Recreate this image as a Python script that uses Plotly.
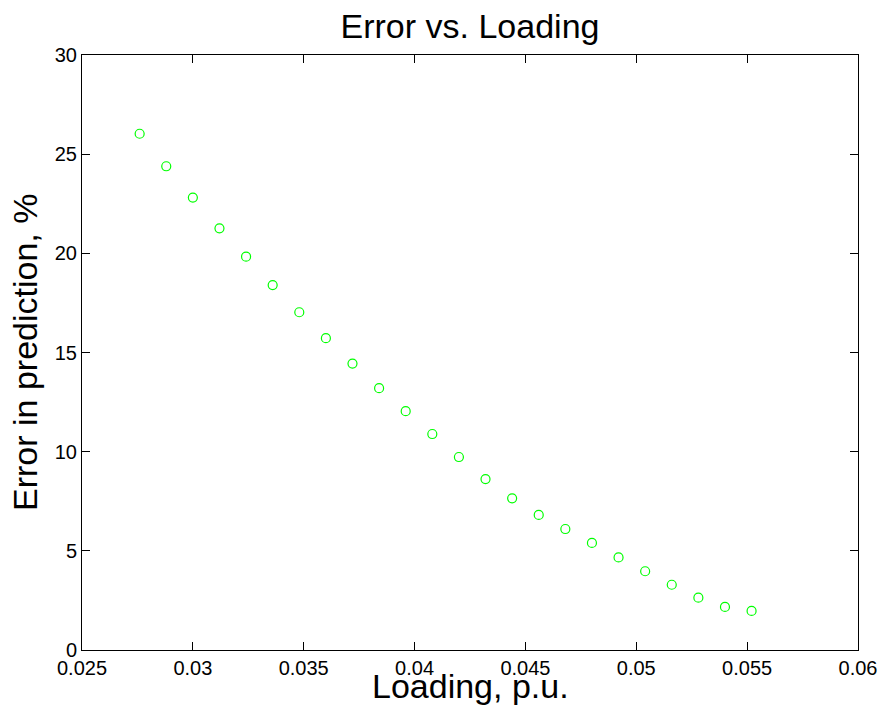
import plotly.graph_objects as go

# Data
loading_pu = [0.0276, 0.0288, 0.0300, 0.0312, 0.0324, 0.0336, 0.0348, 0.0360,
              0.0372, 0.0384, 0.0396, 0.0408, 0.0420, 0.0432, 0.0444, 0.0456,
              0.0468, 0.0480, 0.0492, 0.0504, 0.0516, 0.0528, 0.0540, 0.0552]
error_pct = [26.03, 24.39, 22.81, 21.26, 19.83, 18.40, 17.03, 15.72,
             14.44, 13.20, 12.04, 10.89, 9.73, 8.62, 7.65, 6.81,
             6.10, 5.40, 4.67, 3.97, 3.29, 2.64, 2.17, 1.97]

x_tickvals = [0.025, 0.03, 0.035, 0.04, 0.045, 0.05, 0.055, 0.06]
x_ticktext = ["0.025", "0.03", "0.035", "0.04", "0.045", "0.05", "0.055", "0.06"]
y_tickvals = [0, 5, 10, 15, 20, 25, 30]
y_ticktext = ["0", "5", "10", "15", "20", "25", "30"]

title_text = "Error vs. Loading"
x_title = "Loading, p.u."
y_title = "Error in prediction, %"

FONT = "Liberation Sans, Arial, Helvetica, sans-serif"

W, H = 883, 719

fig = go.Figure()
fig.add_trace(go.Scatter(
    x=loading_pu, y=error_pct, mode="markers",
    marker=dict(symbol="circle-open", size=9, color="#00FF00",
                line=dict(color="#00FF00", width=1.2)),
    showlegend=False, hoverinfo="skip",
))

axis_common = dict(
    showline=True, linecolor="black", linewidth=1, mirror="ticks",
    ticks="inside", ticklen=8, tickwidth=1, tickcolor="black",
    showgrid=False, zeroline=False, ticklabeloverflow="allow",
    automargin=False,
    tickfont=dict(family=FONT, size=20, color="black"),
)

fig.update_layout(
    width=W, height=H,
    margin=dict(l=82, r=25, t=55, b=69, autoexpand=False),
    paper_bgcolor="white", plot_bgcolor="white",
    font=dict(family=FONT, color="black"),
    title=dict(text=title_text, x=0.5, xanchor="center", xref="paper",
               y=1 - 26.5 / H, yanchor="middle", yref="container",
               font=dict(family=FONT, size=34, color="black")),
    xaxis=dict(range=[0.025, 0.06], tickmode="array", tickvals=x_tickvals,
               ticktext=x_ticktext, **axis_common),
    yaxis=dict(range=[0, 30], tickmode="array", tickvals=y_tickvals,
               ticktext=y_ticktext, **axis_common),
    annotations=[
        dict(text=x_title, xref="paper", yref="paper", x=0.5, y=0,
             xanchor="center", yanchor="middle", yshift=-36, showarrow=False,
             font=dict(family=FONT, size=34, color="black")),
        dict(text=y_title, xref="paper", yref="paper", x=0, y=0.5,
             xanchor="center", yanchor="middle", xshift=-57.5, textangle=-90,
             showarrow=False,
             font=dict(family=FONT, size=34, color="black")),
    ],
)

fig.write_html(
    "out.html",
    config={"displayModeBar": False, "staticPlot": True},
    post_script="document.body.style.margin='0';document.body.style.overflow='hidden';",
)
